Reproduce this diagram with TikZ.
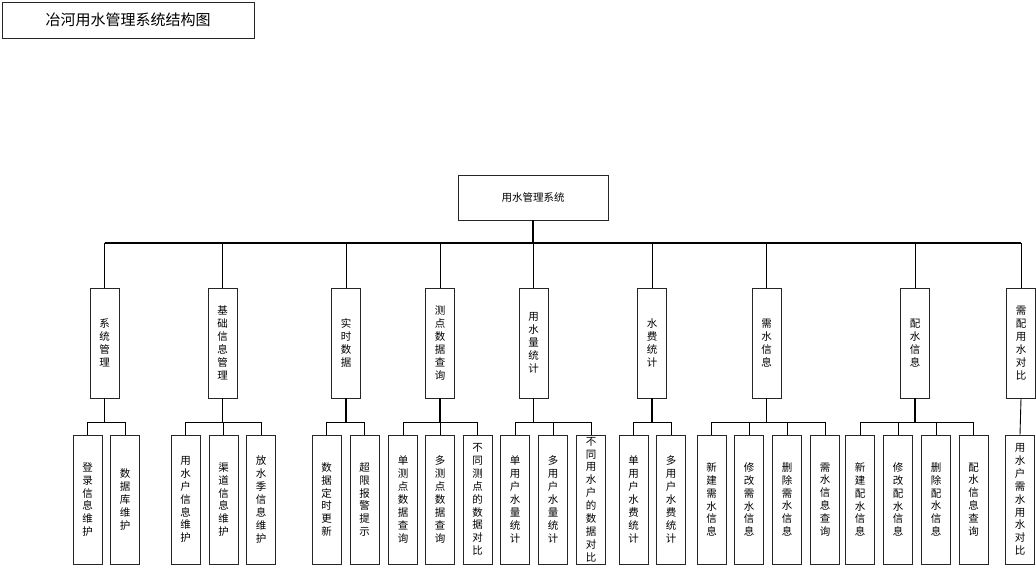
\documentclass[tikz,border=0pt]{standalone}
\usepackage{fontspec}
\newfontfamily\cjk{Noto Sans CJK SC}
\begin{document}
\begin{tikzpicture}[x=1pt,y=-1pt,
  box/.style={draw=black!85,line width=0.9pt,fill=white,inner sep=0pt,align=center},
  titlebox/.style={box,minimum width=252,minimum height=36,font=\cjk\fontsize{15}{18}\selectfont},
  rootbox/.style={box,minimum width=150,minimum height=45,font=\cjk\fontsize{10.5}{13}\selectfont},
  midbox/.style={box,minimum width=29,minimum height=110,font=\cjk\fontsize{10.5}{13}\selectfont},
  leafbox/.style={box,minimum width=29,minimum height=129,font=\cjk\fontsize{10.5}{12.9}\selectfont},
  link/.style={draw=black,line width=0.9pt},
  mainlink/.style={draw=black,line width=1.6pt}]
\useasboundingbox (0,0) rectangle (1036,565);
\node[titlebox] (title) at (128,20) {冶河用水管理系统结构图};
\node[rootbox] (root) at (533,197.5) {用水管理系统};
\coordinate (bus) at (0,243);
\coordinate (sb) at (0,422);
% level 2
\node[midbox] (m1) at (104.5,343) {系\\统\\管\\理};
\node[midbox] (m2) at (222.5,343) {基\\础\\信\\息\\管\\理};
\node[midbox] (m3) at (346,343) {实\\时\\数\\据};
\node[midbox] (m4) at (440,343) {测\\点\\数\\据\\查\\询};
\node[midbox] (m5) at (533.5,343) {用\\水\\量\\统\\计};
\node[midbox] (m6) at (652,343) {水\\费\\统\\计};
\node[midbox] (m7) at (766.5,343) {需\\水\\信\\息};
\node[midbox] (m8) at (915,343) {配\\水\\信\\息};
\node[midbox] (m9) at (1021,343) {需\\配\\用\\水\\对\\比};
% level 3
\node[leafbox] (a1) at (87.5,499.5) {登\\录\\信\\息\\维\\护};
\node[leafbox] (a2) at (125,499.5) {数\\据\\库\\维\\护};
\node[leafbox] (b1) at (185.5,499.5) {用\\水\\户\\信\\息\\维\\护};
\node[leafbox] (b2) at (223.5,499.5) {渠\\道\\信\\息\\维\\护};
\node[leafbox] (b3) at (261,499.5) {放\\水\\季\\信\\息\\维\\护};
\node[leafbox] (c1) at (326.5,499.5) {数\\据\\定\\时\\更\\新};
\node[leafbox] (c2) at (364.5,499.5) {超\\限\\报\\警\\提\\示};
\node[leafbox] (d1) at (403,499.5) {单\\测\\点\\数\\据\\查\\询};
\node[leafbox] (d2) at (440,499.5) {多\\测\\点\\数\\据\\查\\询};
\node[leafbox] (d3) at (477.5,499.5) {不\\同\\测\\点\\的\\数\\据\\对\\比};
\node[leafbox] (e1) at (515,499.5) {单\\用\\户\\水\\量\\统\\计};
\node[leafbox] (e2) at (553,499.5) {多\\用\\户\\水\\量\\统\\计};
\node[leafbox] (e3) at (591,499.5) {不\\同\\用\\水\\户\\的\\数\\据\\对\\比};
\node[leafbox] (f1) at (633.5,499.5) {单\\用\\户\\水\\费\\统\\计};
\node[leafbox] (f2) at (671,499.5) {多\\用\\户\\水\\费\\统\\计};
\node[leafbox] (g1) at (711.5,499.5) {新\\建\\需\\水\\信\\息};
\node[leafbox] (g2) at (749,499.5) {修\\改\\需\\水\\信\\息};
\node[leafbox] (g3) at (787,499.5) {删\\除\\需\\水\\信\\息};
\node[leafbox] (g4) at (825,499.5) {需\\水\\信\\息\\查\\询};
\node[leafbox] (h1) at (860,499.5) {新\\建\\配\\水\\信\\息};
\node[leafbox] (h2) at (898,499.5) {修\\改\\配\\水\\信\\息};
\node[leafbox] (h3) at (936,499.5) {删\\除\\配\\水\\信\\息};
\node[leafbox] (h4) at (973.5,499.5) {配\\水\\信\\息\\查\\询};
\node[leafbox] (i1) at (1020,499.5) {用\\水\\户\\需\\水\\用\\水\\对\\比};
% main bus
\draw[mainlink] (root.south) -- (root.south |- bus);
\draw[mainlink] (m1.north |- bus) -- (m9.north |- bus);
\foreach \m in {m1,m2,m3,m4,m5,m6,m7,m8,m9}
  \draw[link] (\m.north) -- (\m.north |- bus);
% sub buses
\foreach \p/\first/\last/\kids in {m1/a1/a2/{a1,a2},m2/b1/b3/{b1,b2,b3},m3/c1/c2/{c1,c2},m4/d1/d3/{d1,d2,d3},m5/e1/e3/{e1,e2,e3},m6/f1/f2/{f1,f2},m7/g1/g4/{g1,g2,g3,g4},m8/h1/h4/{h1,h2,h3,h4}}{
  \draw[mainlink] (\p.south) -- (\p.south |- sb);
  \draw[link] (\first.north |- sb) -- (\last.north |- sb);
  \foreach \k in \kids
    \draw[link] (\k.north) -- (\k.north |- sb);
}
\draw[link] (m9.south) -- (i1.north);
\end{tikzpicture}
\end{document}
